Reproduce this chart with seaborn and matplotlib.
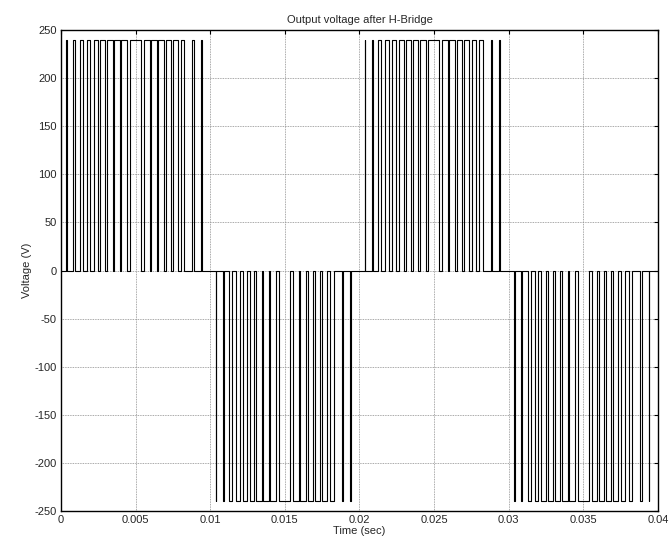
import matplotlib
matplotlib.use("Agg")
import matplotlib.pyplot as plt
import seaborn as sb
import pandas as pd

# pulse edges in one half-cycle (ms)
rise_ms = [0.36, 0.83, 1.27, 1.73, 2.18, 2.64, 3.10, 3.57, 4.03, 4.62,
           5.55, 6.03, 6.52, 7.02, 7.51, 8.03, 8.80, 9.38]
fall_ms = [0.40, 0.91, 1.47, 1.97, 2.48, 2.96, 3.46, 3.95, 4.43, 5.36,
           5.95, 6.41, 6.88, 7.34, 7.81, 8.27, 8.90, 9.42]
half_start = [0.0, 0.01, 0.02, 0.03]
half_sign = [1, -1, 1, -1]
v_dc = 240

x_ticks = [0, 0.005, 0.01, 0.015, 0.02, 0.025, 0.03, 0.035, 0.04]
x_labels = ["0", "0.005", "0.01", "0.015", "0.02", "0.025", "0.03", "0.035", "0.04"]
y_ticks = [-250, -200, -150, -100, -50, 0, 50, 100, 150, 200, 250]

t = [0.0]
v = [0.0]
for t0, s in zip(half_start, half_sign):
    for r, f in zip(rise_ms, fall_ms):
        tr = t0 + r / 1000
        tf = t0 + f / 1000
        t += [tr, tr, tf, tf]
        v += [0, s * v_dc, s * v_dc, 0]
t.append(0.04)
v.append(0.0)
df = pd.DataFrame({"t": t, "v": v})

sb.set_style("white")
plt.rcParams["font.family"] = ["Liberation Sans", "DejaVu Sans"]
plt.rcParams["font.size"] = 8
plt.rcParams["axes.unicode_minus"] = False

fig = plt.figure(figsize=(6.7, 5.4), dpi=100)
ax = fig.add_axes([0.091, 0.054, 0.891, 0.89])
sb.lineplot(data=df, x="t", y="v", sort=False, estimator=None,
            color="black", linewidth=0.8, ax=ax)

ax.set_xlim(0, 0.04)
ax.set_ylim(-250, 250)
ax.set_xticks(x_ticks)
ax.set_xticklabels(x_labels)
ax.set_yticks(y_ticks)
ax.grid(True, color="#8c8c8c", linestyle=(0, (1, 1)), linewidth=0.6)
ax.tick_params(direction="in", length=3, top=True, right=True,
               labelsize=8, pad=3, color="black")
for sp in ax.spines.values():
    sp.set_color("black")
    sp.set_linewidth(1.0)
ax.set_xlabel("Time (sec)", fontsize=8, labelpad=1)
ax.set_ylabel("Voltage (V)", fontsize=8, labelpad=2)
ax.set_title("Output voltage after H-Bridge", fontsize=8, pad=5)

fig.savefig("out.png", dpi=100)
